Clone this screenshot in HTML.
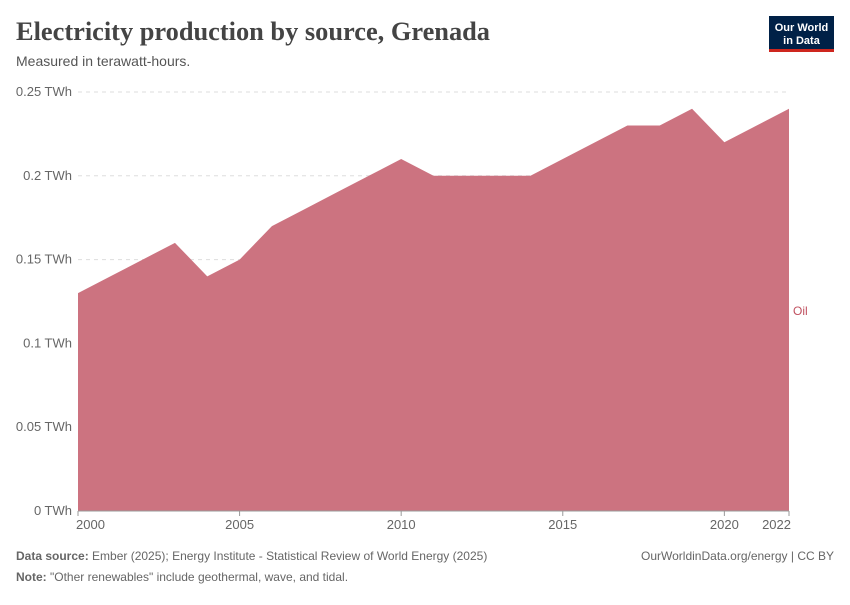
<!DOCTYPE html>
<html><head><meta charset="utf-8"><style>
body{margin:0;background:#fff;font-family:"Liberation Sans",sans-serif;}
</style></head><body>
<svg id="chart" width="850" height="600" xmlns="http://www.w3.org/2000/svg">
<text x="16" y="40" font-family="Liberation Serif,serif" font-size="26" font-weight="bold" fill="#444" textLength="474" lengthAdjust="spacingAndGlyphs">Electricity production by source, Grenada</text>
<text x="16" y="66" font-size="14" fill="#555">Measured in terawatt-hours.</text>
<g>
<rect x="769" y="16" width="65" height="34" fill="#002147"/>
<rect x="769" y="49" width="65" height="3" fill="#ce261e"/>
<text x="801.5" y="31" font-size="11" fill="#fff" text-anchor="middle" font-weight="bold">Our World</text>
<text x="801.5" y="44" font-size="11" fill="#fff" text-anchor="middle" font-weight="bold">in Data</text>
</g>
<g id="grid"></g>
<g id="area"></g>
<g id="xaxis"></g>
<text x="793" y="315" font-size="12" fill="#c0505f">Oil</text>
<text x="16" y="560" font-size="12" fill="#666"><tspan font-weight="bold">Data source:</tspan> Ember (2025); Energy Institute - Statistical Review of World Energy (2025)</text>
<text x="834" y="560" font-size="12" fill="#666" text-anchor="end">OurWorldinData.org/energy | CC BY</text>
<text x="16" y="581" font-size="12" fill="#666"><tspan font-weight="bold">Note:</tspan> "Other renewables" include geothermal, wave, and tidal.</text>
</svg>
<script>
const years=[2000,2001,2002,2003,2004,2005,2006,2007,2008,2009,2010,2011,2012,2013,2014,2015,2016,2017,2018,2019,2020,2021,2022];
const oil=[0.13,0.14,0.15,0.16,0.14,0.15,0.17,0.18,0.19,0.20,0.21,0.20,0.20,0.20,0.20,0.21,0.22,0.23,0.23,0.24,0.22,0.23,0.24];
const yTicks=[0,0.05,0.1,0.15,0.2,0.25];
const yTickLabels=["0 TWh","0.05 TWh","0.1 TWh","0.15 TWh","0.2 TWh","0.25 TWh"];
const xTicks=[2000,2005,2010,2015,2020,2022];
const ns="http://www.w3.org/2000/svg";
const X=v=>78+(v-2000)*(789-78)/22;
const Y=v=>511-v*(511-92)/0.25;
function mk(t,a,p){const e=document.createElementNS(ns,t);for(const k in a)e.setAttribute(k,a[k]);p.appendChild(e);return e;}
const g=document.getElementById('grid');
yTicks.forEach((t,i)=>{
 const l=mk('line',{x1:78,x2:789,y1:Y(t),y2:Y(t),stroke:'#ddd','stroke-dasharray':t===0?'':'4,4'},g);
 
 
 const tx=mk('text',{x:72,y:Y(t)+4,'font-size':13,fill:'#666','text-anchor':'end'},g);
 tx.textContent=yTickLabels[i];
 
 
});
let d='M'+X(years[0])+','+Y(0);
years.forEach((y,i)=>d+='L'+X(y)+','+Y(oil[i]));
d+='L'+X(years[years.length-1])+','+Y(0)+'Z';
const a=mk('path',{d:d,fill:'#cc7380'},document.getElementById('area'));


const xa=document.getElementById('xaxis');
const ax=mk('line',{x1:78,x2:789,y1:511,y2:511,stroke:'#999'},xa);


xTicks.forEach(t=>{
 const tk=mk('line',{x1:X(t),x2:X(t),y1:511,y2:516,stroke:'#999'},xa);
 
 
 const tx=mk('text',{x:X(t),y:529,'font-size':13,fill:'#666','text-anchor':t===2000?'start':(t===2022?'end':'middle')},xa);
 if(t===2000)tx.setAttribute('x',X(t)-2);
 if(t===2022)tx.setAttribute('x',X(t)+2);
 tx.textContent=t;
 
 
});
</script>
</body></html>
